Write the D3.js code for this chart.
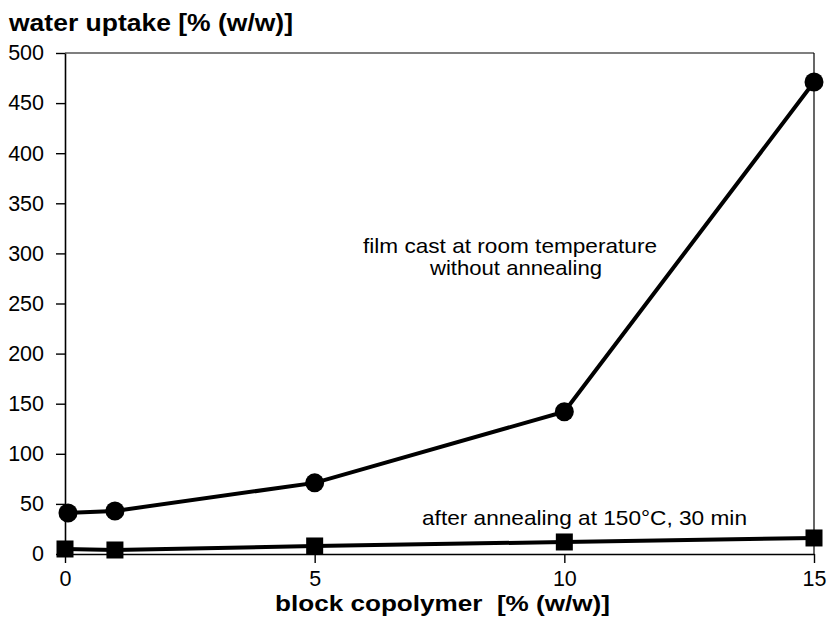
<!DOCTYPE html>
<html>
<head>
<meta charset="utf-8">
<script src="https://cdn.jsdelivr.net/npm/d3@7"></script>
<style>
  html, body { margin: 0; padding: 0; background: #fff; }
  svg { display: block; }
  text { font-family: "Liberation Sans", Arial, sans-serif; fill: #000; }
</style>
</head>
<body>
<svg id="chart" width="829" height="623"></svg>
<script>
// Block copolymer content [% (w/w)]
const copolymer = [0, 1, 5, 10, 15];
// Water uptake [% (w/w)], film cast at room temperature without annealing
const uptakeCast = [41, 43, 71, 142, 471];
// Water uptake [% (w/w)], after annealing at 150 °C for 30 min
const uptakeAnnealed = [5, 4, 8, 12, 16];

const xTicks = [0, 5, 10, 15];
const yTicks = [0, 50, 100, 150, 200, 250, 300, 350, 400, 450, 500];

const svg = d3.select("#chart");
const margin = { left: 65, right: 15, top: 53, bottom: 69 };
const W = 829, H = 623;

const x = d3.scaleLinear().domain([0, 15]).range([margin.left, W - margin.right]);
const y = d3.scaleLinear().domain([0, 500]).range([H - margin.bottom, margin.top]);

// frame: top and right edges
svg.append("line")
  .attr("x1", x(0)).attr("x2", x(15)).attr("y1", y(500)).attr("y2", y(500))
  .attr("stroke", "#000").attr("stroke-width", 1.2);
svg.append("line")
  .attr("x1", x(15)).attr("x2", x(15)).attr("y1", y(500)).attr("y2", y(0))
  .attr("stroke", "#000").attr("stroke-width", 1.2);

// y axis
const yAxis = svg.append("g")
  .attr("transform", `translate(${x(0)},0)`)
  .call(d3.axisLeft(y).tickValues(yTicks).tickSize(9).tickPadding(12).tickSizeOuter(0));
// x axis
const xAxis = svg.append("g")
  .attr("transform", `translate(0,${y(0)})`)
  .call(d3.axisBottom(x).tickValues(xTicks).tickSize(9).tickPadding(8).tickSizeOuter(0));

[yAxis, xAxis].forEach(g => {
  g.select(".domain").attr("stroke", "#000").attr("stroke-width", 1.6);
  g.selectAll(".tick line").attr("stroke", "#000").attr("stroke-width", 1.4);
  g.selectAll(".tick text")
    .attr("font-family", "'Liberation Sans', Arial, sans-serif")
    .attr("font-size", 21.5).attr("fill", "#000");
});

// axis titles
svg.append("text")
  .attr("x", 9).attr("y", 31)
  .attr("font-size", 24).attr("font-weight", "bold")
  .attr("textLength", 284).attr("lengthAdjust", "spacingAndGlyphs")
  .text("water uptake [% (w/w)]");
svg.append("text")
  .attr("x", 275).attr("y", 611)
  .attr("font-size", 22).attr("font-weight", "bold")
  .attr("xml:space", "preserve")
  .attr("textLength", 335).attr("lengthAdjust", "spacingAndGlyphs")
  .text("block copolymer  [% (w/w)]");

const line = d3.line().x(d => x(d[0])).y(d => y(d[1]));
const cast = copolymer.map((c, i) => [c, uptakeCast[i]]);
const annealed = copolymer.map((c, i) => [c, uptakeAnnealed[i]]);

// annealed series (squares)
svg.append("path").datum(annealed)
  .attr("d", line).attr("fill", "none").attr("stroke", "#000").attr("stroke-width", 4);
const sq = 17;
svg.selectAll("rect.annealed").data(annealed).join("rect")
  .attr("class", "annealed")
  .attr("x", d => x(d[0]) - sq / 2).attr("y", d => y(d[1]) - sq / 2)
  .attr("width", sq).attr("height", sq).attr("fill", "#000");

// as-cast series (circles)
svg.append("path").datum(cast)
  .attr("d", line).attr("fill", "none").attr("stroke", "#000").attr("stroke-width", 4);
svg.selectAll("circle.cast").data(cast).join("circle")
  .attr("class", "cast")
  .attr("cx", d => x(d[0]) + (d[0] === 0 ? 3 : 0)).attr("cy", d => y(d[1]))
  .attr("r", 9.5).attr("fill", "#000");

// series annotations
const note = svg.append("text").attr("font-size", 21);
note.append("tspan").attr("x", 363).attr("y", 253)
  .attr("textLength", 294).attr("lengthAdjust", "spacingAndGlyphs")
  .text("film cast at room temperature");
note.append("tspan").attr("x", 430).attr("y", 275)
  .attr("textLength", 172).attr("lengthAdjust", "spacingAndGlyphs")
  .text("without annealing");
svg.append("text")
  .attr("x", 422).attr("y", 525)
  .attr("font-size", 21)
  .attr("textLength", 325).attr("lengthAdjust", "spacingAndGlyphs")
  .text("after annealing at 150°C, 30 min");
</script>
</body>
</html>
